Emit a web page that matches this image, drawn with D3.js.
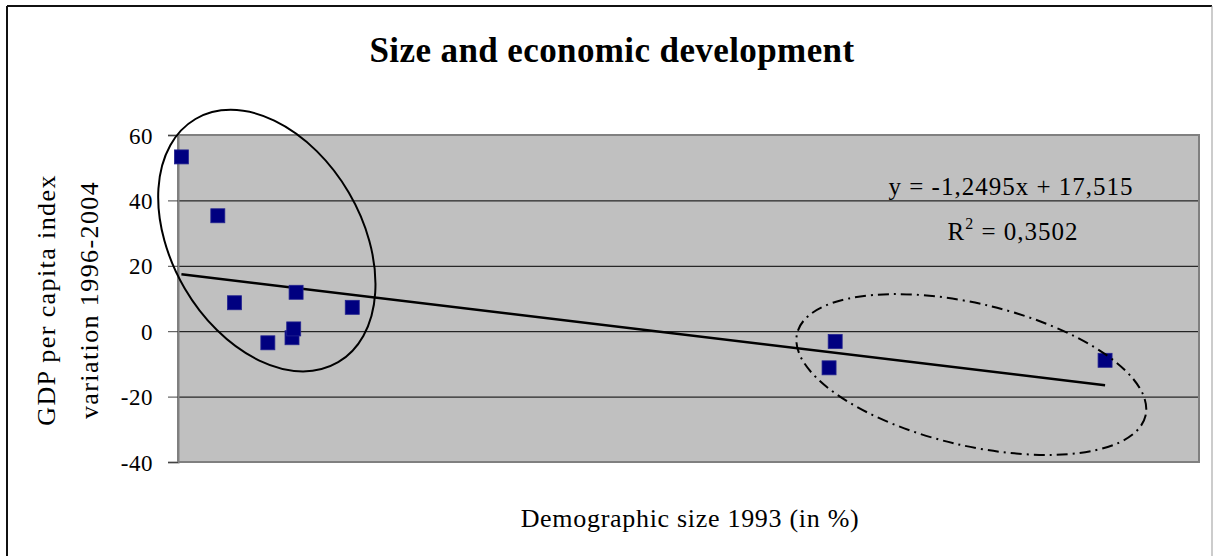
<!DOCTYPE html>
<html>
<head>
<meta charset="utf-8">
<script src="https://cdn.jsdelivr.net/npm/d3@7"></script>
<style>
    body { margin: 0; background: #fff; }
    svg text { font-family: 'Liberation Serif', 'Times New Roman', serif; }
</style>
</head>
<body>
<div id="chart"></div>
<script>
'use strict';

// Demographic size 1993 (in %) for each region
var sizeX = [0.1, 1.17, 1.66, 2.64, 3.35, 3.40, 3.47, 5.12, 19.13, 19.31, 27.24];
// GDP per capita index variation 1996-2004
var gdpY = [53.3, 35.3, 8.7, -3.55, -2.0, 0.7, 11.9, 7.3, -11.2, -3.15, -8.9];
var yTicks = [-40, -20, 0, 20, 40, 60];
var xDomain = [0, 30];
var trendSlope = -1.2495;
var trendIntercept = 17.515;
var trendLabels = ['y = -1,2495x + 17,515', 'R', ' = 0,3502'];
// centres of the two groups that are circled
var groupX = [2.61, 23.31];
var groupY = [27.7, -13.25];

var W = 1213, H = 556;
var margin = {top: 135, right: 14, bottom: 94, left: 178};
var width = W - margin.left - margin.right;
var height = H - margin.top - margin.bottom;
var serif = "'Liberation Serif', 'Times New Roman', serif";

var svg = d3.select('#chart').append('svg')
    .attr('width', W)
    .attr('height', H)
    .attr('font-family', serif)
    .style('display', 'block');

svg.append('rect')
    .attr('width', W)
    .attr('height', H)
    .attr('fill', '#fff');

// chart frame (left and top dark, right light)
svg.append('line')
    .attr('x1', 7).attr('y1', 6).attr('x2', 7).attr('y2', H)
    .attr('stroke', '#111').attr('stroke-width', 2);
svg.append('line')
    .attr('x1', 7).attr('y1', 6).attr('x2', 1212).attr('y2', 6)
    .attr('stroke', '#111').attr('stroke-width', 2);
svg.append('line')
    .attr('x1', 1212).attr('y1', 6).attr('x2', 1212).attr('y2', H)
    .attr('stroke', '#999').attr('stroke-width', 1);

svg.append('text')
    .attr('x', 612)
    .attr('y', 62)
    .attr('text-anchor', 'middle')
    .attr('font-family', serif)
    .style('font-weight', 'bold')
    .style('font-size', '35px')
    .style('letter-spacing', '0.4px')
    .text('Size and economic development');

var xScale = d3.scaleLinear()
    .domain(xDomain)
    .range([0, width]);
var yScale = d3.scaleLinear()
    .domain([yTicks[0], yTicks[yTicks.length - 1]])
    .range([height, 0]);

var g = svg.append('g')
    .attr('transform', 'translate(' + margin.left + ',' + margin.top + ')');

g.append('rect')
    .attr('width', width)
    .attr('height', height)
    .attr('fill', '#c0c0c0');

// gridlines
g.selectAll('.grid')
    .data(yTicks.slice(1, -1))
    .enter()
    .append('line')
    .attr('class', 'grid')
    .attr('x1', 0)
    .attr('x2', width)
    .attr('y1', function(d) { return yScale(d) + 0.5; })
    .attr('y2', function(d) { return yScale(d) + 0.5; })
    .attr('stroke', '#000')
    .attr('stroke-width', 1);

g.append('rect')
    .attr('width', width)
    .attr('height', height)
    .attr('fill', 'none')
    .attr('stroke', '#808080')
    .attr('stroke-width', 2);

// plain hyphen for negatives, like the original
var yAxis = d3.axisLeft(yScale)
    .tickValues(yTicks)
    .tickSize(10)
    .tickPadding(15)
    .tickFormat(function(d) { return String(d); });

g.append('g')
    .attr('class', 'axis')
    .call(yAxis)
    .attr('font-family', serif)
    .attr('font-size', 23)
    .call(function(ax) {
        ax.select('.domain').attr('stroke', '#808080').attr('stroke-width', 2);
        ax.selectAll('.tick line').attr('stroke', '#444');
    })
    .selectAll('text')
    .attr('font-family', serif)
    .style('letter-spacing', '0.5px')
    .attr('fill', '#000')
    .attr('dy', '0.35em');

// trendline over the range of the data
var xMin = d3.min(sizeX), xMax = d3.max(sizeX);
g.append('line')
    .attr('x1', xScale(xMin))
    .attr('y1', yScale(trendSlope * xMin + trendIntercept))
    .attr('x2', xScale(xMax))
    .attr('y2', yScale(trendSlope * xMax + trendIntercept))
    .attr('stroke', '#000')
    .attr('stroke-width', 2.5);

var mark = 14;
g.selectAll('.dot')
    .data(sizeX)
    .enter()
    .append('rect')
    .attr('class', 'dot')
    .attr('x', function(d) { return xScale(d) - mark / 2; })
    .attr('y', function(d, i) { return yScale(gdpY[i]) - mark / 2; })
    .attr('width', mark)
    .attr('height', mark)
    .attr('fill', '#000080')
    .attr('stroke', '#23238f')
    .attr('stroke-width', 0.8);

// group ellipses
var ellipseStyle = [
    {rx: 141, ry: 95, angle: 59.6, dash: null},
    {rx: 179, ry: 71, angle: 13.3, dash: '11,5,2,5'}
];
g.selectAll('.group')
    .data(groupX)
    .enter()
    .append('ellipse')
    .attr('class', 'group')
    .attr('rx', function(d, i) { return ellipseStyle[i].rx; })
    .attr('ry', function(d, i) { return ellipseStyle[i].ry; })
    .attr('transform', function(d, i) {
        return 'translate(' + xScale(d) + ',' + yScale(groupY[i]) + ') rotate(' + ellipseStyle[i].angle + ')';
    })
    .attr('fill', 'none')
    .attr('stroke', '#000')
    .attr('stroke-width', 2)
    .attr('stroke-dasharray', function(d, i) { return ellipseStyle[i].dash; });

// trendline equation
g.append('text')
    .attr('x', 833)
    .attr('y', 60)
    .attr('text-anchor', 'middle')
    .attr('font-family', serif)
    .style('font-size', '25px')
    .style('letter-spacing', '1px')
    .text(trendLabels[0]);

var r2 = g.append('text')
    .attr('x', 835)
    .attr('y', 105)
    .attr('text-anchor', 'middle')
    .attr('font-family', serif)
    .style('font-size', '25px')
    .style('letter-spacing', '1px');
r2.append('tspan').text(trendLabels[1]);
r2.append('tspan').attr('dy', -11).style('font-size', '16px').text('2');
r2.append('tspan').attr('dy', 11).text(trendLabels[2]);

// axis titles
svg.append('text')
    .attr('x', 690)
    .attr('y', 527)
    .attr('text-anchor', 'middle')
    .attr('font-family', serif)
    .style('font-size', '26px')
    .style('letter-spacing', '0.7px')
    .text('Demographic size 1993 (in %)');

var yTitle = svg.append('text')
    .attr('transform', 'translate(55,300) rotate(-90)')
    .attr('text-anchor', 'middle')
    .attr('font-family', serif)
    .style('font-size', '26px')
    .style('letter-spacing', '1.4px');
yTitle.append('tspan').attr('x', 0).attr('y', 0).text('GDP per capita index');
yTitle.append('tspan').attr('x', 0).attr('y', 43).text('variation 1996-2004');
</script>
</body>
</html>
